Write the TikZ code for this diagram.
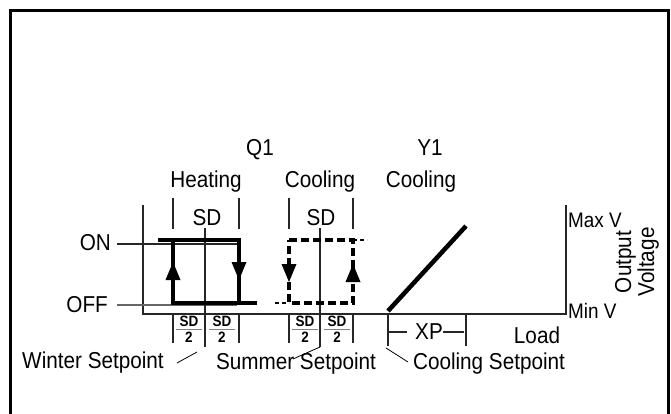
\documentclass[tikz,border=0pt]{standalone}
\usepackage{fontspec}
\setmainfont{Liberation Sans}[FakeStretch=0.9]
\usetikzlibrary{calc}

\begin{document}
\begin{tikzpicture}[x=1pt,y=-1pt,
    lbl/.style={font=\fontsize{23}{26}\selectfont,inner sep=0pt,anchor=base},
    small/.style={font=\fontsize{21}{23}\selectfont,inner sep=0pt,anchor=base west},
    frac/.style={font=\bfseries\fontsize{15}{15}\selectfont,inner sep=0pt,anchor=base},
    thinline/.style={black!85,line width=1.2pt},
    heat/.style={black,line width=4pt},
    cool/.style={black,line width=4pt,dash pattern=on 8pt off 4pt}]
\useasboundingbox (0,0) rectangle (671,414);

%frame
\draw[line width=3pt] (10,430) -- (10,11) -- (668,11) -- (668,430);

\coordinate (o) at (143,314);
\coordinate (axtop) at (143,205);
\coordinate (axend) at (566,314);
\coordinate (maxv) at (566,205);

\coordinate (hbl) at (173,303);
\coordinate (hbr) at (239,303);
\coordinate (htl) at (173,240);
\coordinate (htr) at (239,240);
\coordinate (hon) at (158,240);
\coordinate (hoff) at (257,303);

\coordinate (cbl) at (289,303);
\coordinate (cbr) at (353,303);
\coordinate (ctl) at (289,240);
\coordinate (ctr) at (353,240);
\coordinate (cton) at (367,240);
\coordinate (cboff) at (275,303);

\coordinate (ya) at (388,311);
\coordinate (yb) at (466,226);

\newcommand{\uptri}[1]{
    \fill[black] (#1) -- ++(-7.5,18) -- ++(15,0) -- cycle;
}
\newcommand{\downtri}[1]{
    \fill[black] (#1) -- ++(-7.5,-18) -- ++(15,0) -- cycle;
}
\newcommand{\vtick}[3]{
    \draw[thinline] (#1,#2) -- (#1,#3);
}
\newcommand{\sdhalf}[2]{
    \coordinate (#1) at (#2,329);
    \node[frac] (#1sd) at ($(#1)+(0,-3)$) {SD};
    \node[frac] (#1two) at ($(#1)+(0,13)$) {2};
    \draw[gray,line width=0.8pt] ($(#1)+(-13,0)$) -- ($(#1)+(13,0)$);
}

%axes
\draw[thinline] (axtop) -- (o) -- (axend) -- (maxv);

%on / off levels
\node[lbl,anchor=base east] (on) at (111,250) {ON};
\node[lbl,anchor=base east] (off) at (108,312) {OFF};
\draw[thinline] (117,244) -- (237,244);
\draw[thinline,black!60] (117,305) -- (237,305);

%ticks
\vtick{173}{198}{229} \vtick{239}{198}{229}
\vtick{289}{198}{229} \vtick{353}{198}{229}
\vtick{173}{314}{343} \vtick{239}{314}{343}
\vtick{289}{314}{343} \vtick{353}{314}{343}
\vtick{205}{228}{347} \vtick{320}{228}{347}
\vtick{388}{314}{346} \vtick{466}{314}{346}

%heating loop
\draw[heat] (hon) -- (htr) -- (hbr);
\draw[heat] (htl) -- (hbl) -- (hoff);
\uptri{173,262}
\downtri{239,280}

%cooling loop
\draw[black,line width=1.2pt,dash pattern=on 4pt off 3pt] (ctr) -- (cton);
\draw[black,line width=1.2pt,dash pattern=on 4pt off 3pt] (cboff) -- (cbl);
\draw[cool] (ctl) -- (ctr) -- (cbr) -- (cbl) -- cycle;
\downtri{289,282}
\uptri{353,264}

%proportional band
\draw[black,line width=4.5pt] (ya) -- (yb);

%labels
\node[lbl] (q1) at (260,156) {Q1};
\node[lbl] (y1) at (430,156) {Y1};
\node[lbl] (heating) at (206,187) {Heating};
\node[lbl] (coolq) at (320,187) {Cooling};
\node[lbl] (cooly) at (421,187) {Cooling};
\node[lbl] (sdh) at (207,225) {SD};
\node[lbl] (sdc) at (321,225) {SD};

\sdhalf{fa}{189}
\sdhalf{fb}{222}
\sdhalf{fc}{305}
\sdhalf{fd}{337}

\node[lbl] (xp) at (429,339) {XP};
\draw[thinline] (387,332) -- (407,332);
\draw[thinline] (443,332) -- (464,332);
\node[lbl] (load) at (537,343) {Load};

\node[small] (maxlbl) at (568,227) {Max V};
\node[small] (minlbl) at (568,318) {Min V};
\node[font=\fontsize{23}{23}\selectfont,inner sep=0pt,align=center,rotate=90] (outv) at (637,262) {Output\\Voltage};

\node[lbl] (winter) at (93,368) {Winter Setpoint};
\node[lbl] (summer) at (296,369) {Summer Setpoint};
\node[lbl] (coolset) at (489,369) {Cooling Setpoint};

\coordinate (wa) at (197,352);
\coordinate (wb) at (177,363);
\coordinate (sa) at (320,347);
\coordinate (sb) at (293,359);
\coordinate (ca) at (386,348);
\coordinate (cb) at (408,362);
\draw[black,line width=0.8pt] (wa) -- (wb);
\draw[black,line width=0.8pt] (sa) -- (sb);
\draw[black,line width=0.8pt] (ca) -- (cb);
\end{tikzpicture}
\end{document}
